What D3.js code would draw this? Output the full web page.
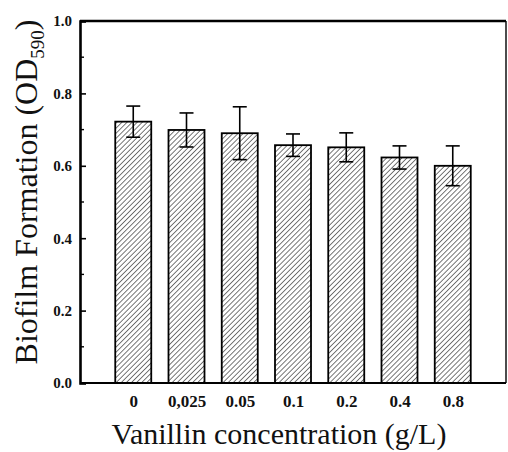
<!DOCTYPE html>
<html>
<head>
<meta charset="utf-8">
<script src="https://cdn.jsdelivr.net/npm/d3@7"></script>
<style>
  body { margin: 0; background: #fff; }
  svg { display: block; }
  text { fill: #111; }
</style>
</head>
<body>
<svg id="chart"></svg>
<script>
// data
var concLabels = ["0", "0,025", "0.05", "0.1", "0.2", "0.4", "0.8"];
var biofilm = [0.722, 0.699, 0.690, 0.657, 0.651, 0.623, 0.600];
var errs = [0.043, 0.047, 0.073, 0.031, 0.040, 0.032, 0.055];
var yTicks = [0.0, 0.2, 0.4, 0.6, 0.8, 1.0];
var yMinor = [0.1, 0.3, 0.5, 0.7, 0.9];

var serif = "'Liberation Serif', 'Times New Roman', Times, 'DejaVu Serif', serif";

var svgWidth = 508, svgHeight = 452;
var margin = { top: 21, right: 2, bottom: 69, left: 80 };
var width = svgWidth - margin.left - margin.right;
var height = svgHeight - margin.top - margin.bottom;

var svg = d3.select("#chart")
    .attr("width", svgWidth)
    .attr("height", svgHeight);

// hatch fill
var defs = svg.append("defs");
var pat = defs.append("pattern")
    .attr("id", "hatch")
    .attr("patternUnits", "userSpaceOnUse")
    .attr("width", 3.6)
    .attr("height", 3.6)
    .attr("patternTransform", "rotate(45)");
pat.append("rect").attr("width", 3.6).attr("height", 3.6).attr("fill", "#fff");
pat.append("line")
    .attr("x1", 0).attr("y1", 0).attr("x2", 0).attr("y2", 3.6)
    .attr("stroke", "#4a4a4a")
    .attr("stroke-width", 1.5);

var g = svg.append("g")
    .attr("transform", "translate(" + margin.left + "," + margin.top + ")");

var x = d3.scalePoint()
    .domain(concLabels)
    .range([0, width])
    .padding(1);

var y = d3.scaleLinear()
    .domain([0, 1])
    .range([height, 0]);

var barW = 36;

// bars
g.selectAll(".bar")
    .data(biofilm)
    .enter().append("rect")
    .attr("class", "bar")
    .attr("x", (d, i) => x(concLabels[i]) - barW / 2)
    .attr("y", d => y(d))
    .attr("width", barW)
    .attr("height", d => height - y(d))
    .attr("fill", "url(#hatch)")
    .attr("stroke", "#000")
    .attr("stroke-width", 1.8);

// error bars
var eb = g.selectAll(".err")
    .data(biofilm)
    .enter().append("g")
    .attr("class", "err")
    .attr("stroke", "#000")
    .attr("stroke-width", 1.6);
eb.append("line")
    .attr("x1", (d, i) => x(concLabels[i]))
    .attr("x2", (d, i) => x(concLabels[i]))
    .attr("y1", (d, i) => y(d + errs[i]))
    .attr("y2", (d, i) => y(d - errs[i]));
eb.append("line")
    .attr("x1", (d, i) => x(concLabels[i]) - 7)
    .attr("x2", (d, i) => x(concLabels[i]) + 7)
    .attr("y1", (d, i) => y(d + errs[i]))
    .attr("y2", (d, i) => y(d + errs[i]));
eb.append("line")
    .attr("x1", (d, i) => x(concLabels[i]) - 7)
    .attr("x2", (d, i) => x(concLabels[i]) + 7)
    .attr("y1", (d, i) => y(d - errs[i]))
    .attr("y2", (d, i) => y(d - errs[i]));

// frame
g.append("line").attr("x1", 0).attr("x2", width).attr("y1", 0).attr("y2", 0)
    .attr("stroke", "#000").attr("stroke-width", 2.6);
g.append("line").attr("x1", width).attr("x2", width).attr("y1", 0).attr("y2", height)
    .attr("stroke", "#000").attr("stroke-width", 1.4);
g.append("line").attr("x1", 0).attr("x2", width).attr("y1", height).attr("y2", height)
    .attr("stroke", "#000").attr("stroke-width", 2.2);

// y axis, ticks pointing inward
var yAxis = g.append("g")
    .call(d3.axisLeft(y).tickValues(yTicks).tickSize(-6).tickPadding(8)
        .tickFormat(d3.format(".1f")));
yAxis.attr("font-family", serif);
yAxis.select(".domain").attr("stroke-width", 2.6);
yAxis.selectAll(".tick line").attr("stroke-width", 1.6);
yAxis.selectAll("text")
    .attr("font-family", serif)
    .attr("font-size", 15)
    .attr("font-weight", "bold")
    .attr("fill", "#222");

g.selectAll(".minor")
    .data(yMinor)
    .enter().append("line")
    .attr("class", "minor")
    .attr("x1", 0).attr("x2", 4)
    .attr("y1", d => y(d)).attr("y2", d => y(d))
    .attr("stroke", "#000").attr("stroke-width", 1.4);

// x labels
var xAxis = g.append("g")
    .attr("transform", "translate(0," + height + ")")
    .call(d3.axisBottom(x).tickSize(0).tickPadding(12));
xAxis.attr("font-family", serif);
xAxis.select(".domain").remove();
xAxis.selectAll("text")
    .attr("font-family", serif)
    .attr("font-size", 17)
    .attr("font-weight", "bold")
    .attr("fill", "#222");

// axis titles
svg.append("text")
    .attr("x", 279)
    .attr("y", 444)
    .attr("text-anchor", "middle")
    .attr("font-family", serif)
    .attr("font-size", 30)
    .text("Vanillin concentration (g/L)");

var yt = svg.append("text")
    .attr("transform", "translate(37," + 192 + ") rotate(-90)")
    .attr("text-anchor", "middle")
    .attr("font-family", serif)
    .attr("font-size", 32);
yt.append("tspan").text("Biofilm Formation (OD");
yt.append("tspan").attr("dy", 7).attr("font-size", 19).text("590");
yt.append("tspan").attr("dy", -7).text(")");
</script>
</body>
</html>
